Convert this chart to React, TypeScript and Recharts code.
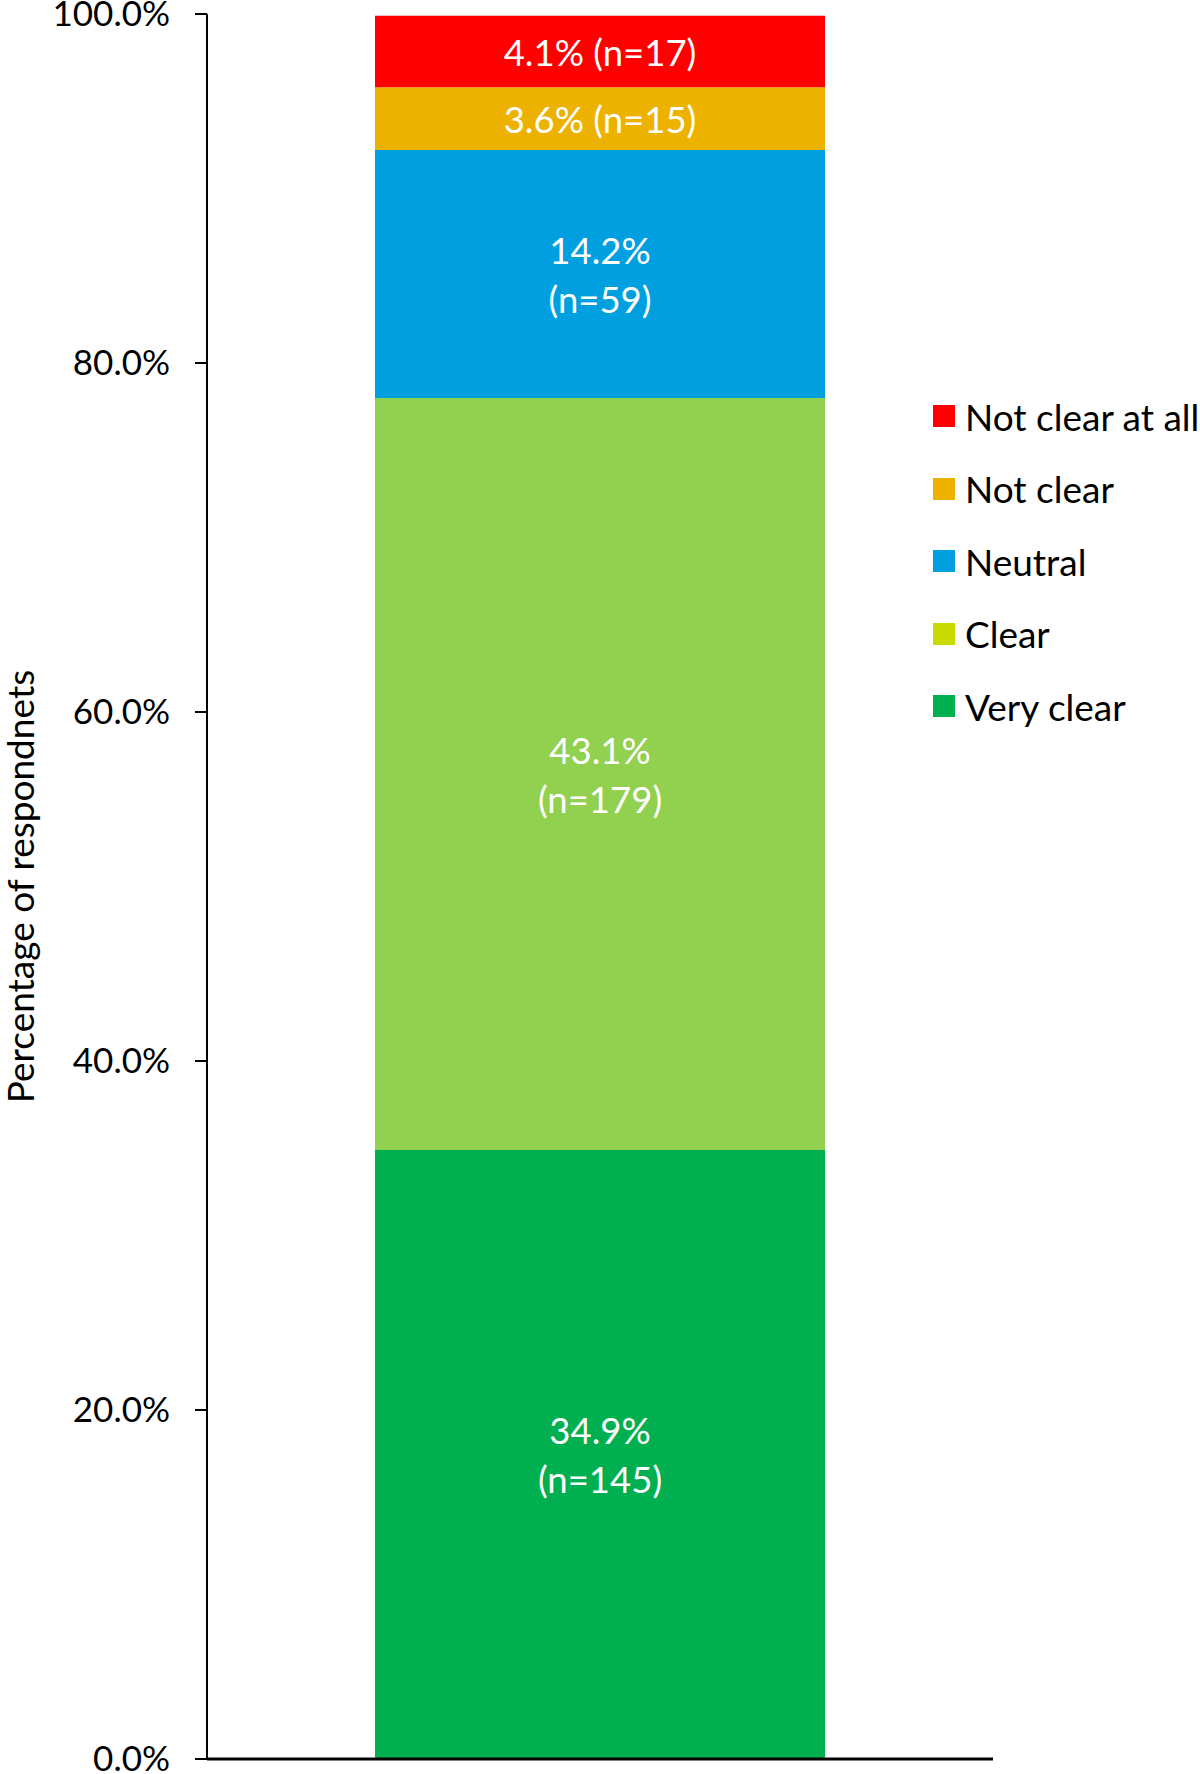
import React from 'react';
import { BarChart, Bar, XAxis, YAxis, LabelList } from 'recharts';

const categories = ['Respondents'];
const seriesNames = ['Very clear', 'Clear', 'Neutral', 'Not clear', 'Not clear at all'];
const percents = [34.9, 43.1, 14.2, 3.6, 4.1];
const counts = [145, 179, 59, 15, 17];
const twoLine = [true, true, true, false, false];
const barColors = ['#00B050', '#92D050', '#00A0E0', '#EDB200', '#FF0000'];
const legendColors = ['#00B050', '#C8DA00', '#00A0E0', '#EDB200', '#FF0000'];
const yTicks = [0, 20, 40, 60, 80, 100];

const FONT = 'Lato, "Noto Sans", sans-serif';
const TICK_FS = 35;
const LABEL_FS = 36.5;
const LEGEND_FS = 37;

const data = categories.map((name) => {
  const row: Record<string, string | number> = { name };
  seriesNames.forEach((_, i) => {
    row[`s${i}`] = percents[i];
  });
  return row;
});

const makeLabel = (i: number) => (props: any) => {
  const { x, y, width, height } = props;
  const cx = Number(x) + Number(width) / 2;
  const cy = Number(y) + Number(height) / 2;
  const pct = `${percents[i].toFixed(1)}%`;
  const n = `(n=${counts[i]})`;
  if (!twoLine[i]) {
    return (
      <text x={cx} y={cy} textAnchor="middle" dominantBaseline="central" fill="#fff" fontFamily={FONT} fontSize={LABEL_FS}>
        {`${pct} ${n}`}
      </text>
    );
  }
  return (
    <text x={cx} y={cy} textAnchor="middle" fill="#fff" fontFamily={FONT} fontSize={LABEL_FS}>
      <tspan x={cx} dy={-24} dominantBaseline="central">{pct}</tspan>
      <tspan x={cx} dy={49} dominantBaseline="central">{n}</tspan>
    </text>
  );
};

const YLabel = (props: any) => {
  const vb = props.viewBox || {};
  const cx = 19;
  const cy = vb.y + vb.height / 2;
  return (
    <text x={cx} y={cy} transform={`rotate(-90 ${cx} ${cy})`} textAnchor="middle" dominantBaseline="central"
      fontFamily={FONT} fontSize={LEGEND_FS} fill="#000">
      Percentage of respondnets
    </text>
  );
};

// legend drawn outside the chart so it doesn't eat plot width
const ChartLegend = () => (
  <div style={{ position: 'absolute', left: 933, top: 380, fontFamily: FONT, fontSize: LEGEND_FS, color: '#000', whiteSpace: 'nowrap' }}>
    {seriesNames.map((_, k) => {
      const i = seriesNames.length - 1 - k;
      return (
        <div key={seriesNames[i]} style={{ display: 'flex', alignItems: 'center', height: 72.5 }}>
          <span style={{ display: 'inline-block', width: 22, height: 22, background: legendColors[i], marginRight: 10 }} />
          <span>{seriesNames[i]}</span>
        </div>
      );
    })}
  </div>
);

export default function App() {
  return (
    <div style={{ position: 'absolute', left: 0, top: 0, width: 1200, height: 1774, background: '#fff', overflow: 'hidden' }}>
      <BarChart width={1200} height={1774} data={data} margin={{ top: 14, right: 207, bottom: 14, left: 0 }}>
        <XAxis dataKey="name" tick={false} tickLine={false} axisLine={{ stroke: '#000', strokeWidth: 3 }} height={1} />
        <YAxis
          type="number"
          domain={[0, 100]}
          ticks={yTicks}
          interval={0}
          width={207}
          tickSize={12}
          tickMargin={25}
          tickFormatter={(v: number) => `${v.toFixed(1)}%`}
          tick={{ fill: '#000', fontSize: TICK_FS, fontFamily: FONT }}
          tickLine={{ stroke: '#000', strokeWidth: 2 }}
          axisLine={{ stroke: '#000', strokeWidth: 2 }}
          label={<YLabel />}
        />
        {seriesNames.map((name, i) => (
          <Bar key={name} dataKey={`s${i}`} name={name} stackId="a" fill={barColors[i]} barSize={450} isAnimationActive={false}>
            <LabelList dataKey={`s${i}`} content={makeLabel(i)} />
          </Bar>
        ))}
      </BarChart>
      <ChartLegend />
    </div>
  );
}
